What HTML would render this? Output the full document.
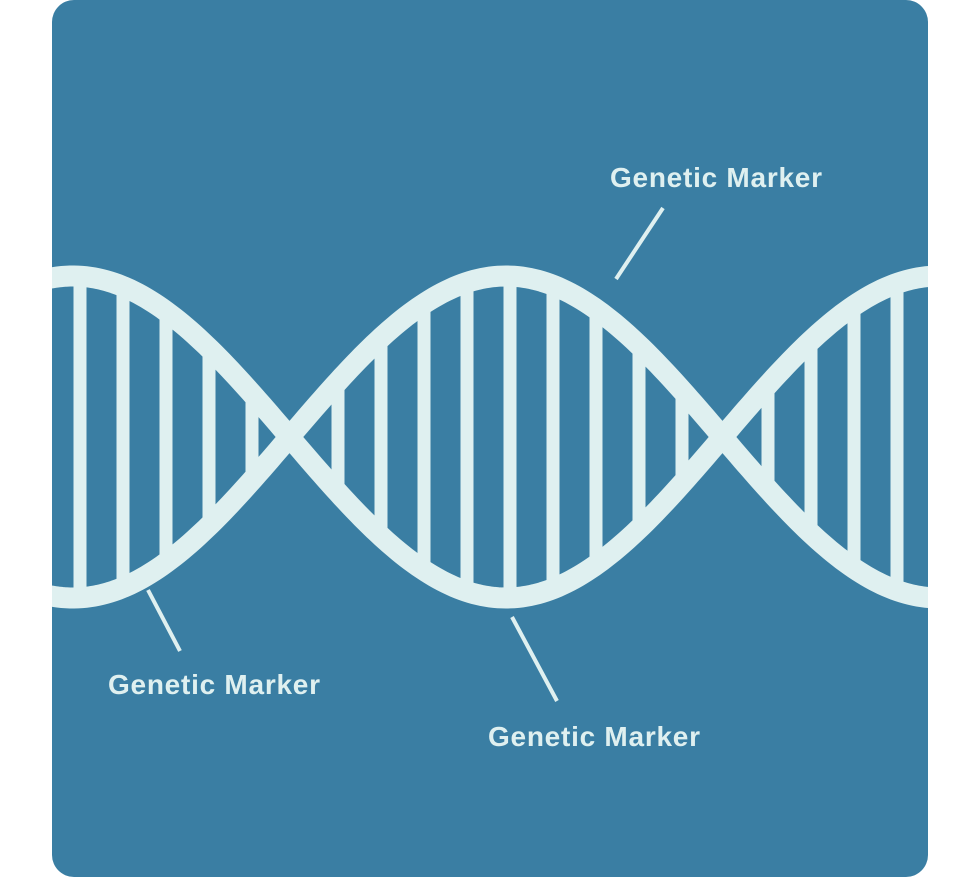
<!DOCTYPE html>
<html><head><style>
html,body{margin:0;padding:0;background:#fff;}
svg{display:block;}
text{font-family:"Liberation Sans",sans-serif;font-weight:bold;font-size:28px;fill:#dff0f0;}
</style></head><body>
<svg id="s" width="978" height="878" viewBox="0 0 978 878">
<defs><clipPath id="c"><rect x="52" y="0" width="876" height="877" rx="22"/></clipPath></defs>
<rect x="52" y="0" width="876" height="877" rx="22" fill="#3a7ea3"/>
<g id="g" clip-path="url(#c)"></g>
<g stroke="#dff0f0" stroke-width="4" stroke-linecap="butt">
<line x1="663" y1="208" x2="616" y2="279"/>
<line x1="148" y1="590" x2="180" y2="651"/>
<line x1="512" y1="617" x2="557" y2="701"/>
</g>
<text x="610" y="187" textLength="212" lengthAdjust="spacing">Genetic Marker</text>
<text x="108" y="694" textLength="212" lengthAdjust="spacing">Genetic Marker</text>
<text x="488" y="746" textLength="212" lengthAdjust="spacing">Genetic Marker</text>
</svg>
<script>
var g=document.getElementById('g'),ns='http://www.w3.org/2000/svg';
var C=437,A=161,P=866,X0=506,col='#dff0f0';
function y(x,s){return C-s*A*Math.cos(2*Math.PI*(x-X0)/P);}
var xs=[];for(var k=-12;k<=12;k++){var x=510+43*k;if(x<40||x>940)continue;if(Math.abs(x-295)<10||Math.abs(x-725)<10)continue;xs.push(x);}
xs.forEach(function(x){var a=y(x,1),b=y(x,-1);var r=document.createElementNS(ns,'rect');
r.setAttribute('x',x-6.5);r.setAttribute('width',13);r.setAttribute('y',Math.min(a,b));r.setAttribute('height',Math.abs(a-b));r.setAttribute('fill',col);g.appendChild(r);});
[1,-1].forEach(function(s){var d='';for(var x=30;x<=950;x+=4){d+=(x==30?'M':'L')+x+' '+y(x,s).toFixed(2)+' ';}
var p=document.createElementNS(ns,'path');p.setAttribute('d',d);p.setAttribute('fill','none');p.setAttribute('stroke',col);p.setAttribute('stroke-width',21);g.appendChild(p);});
</script>
</body></html>
